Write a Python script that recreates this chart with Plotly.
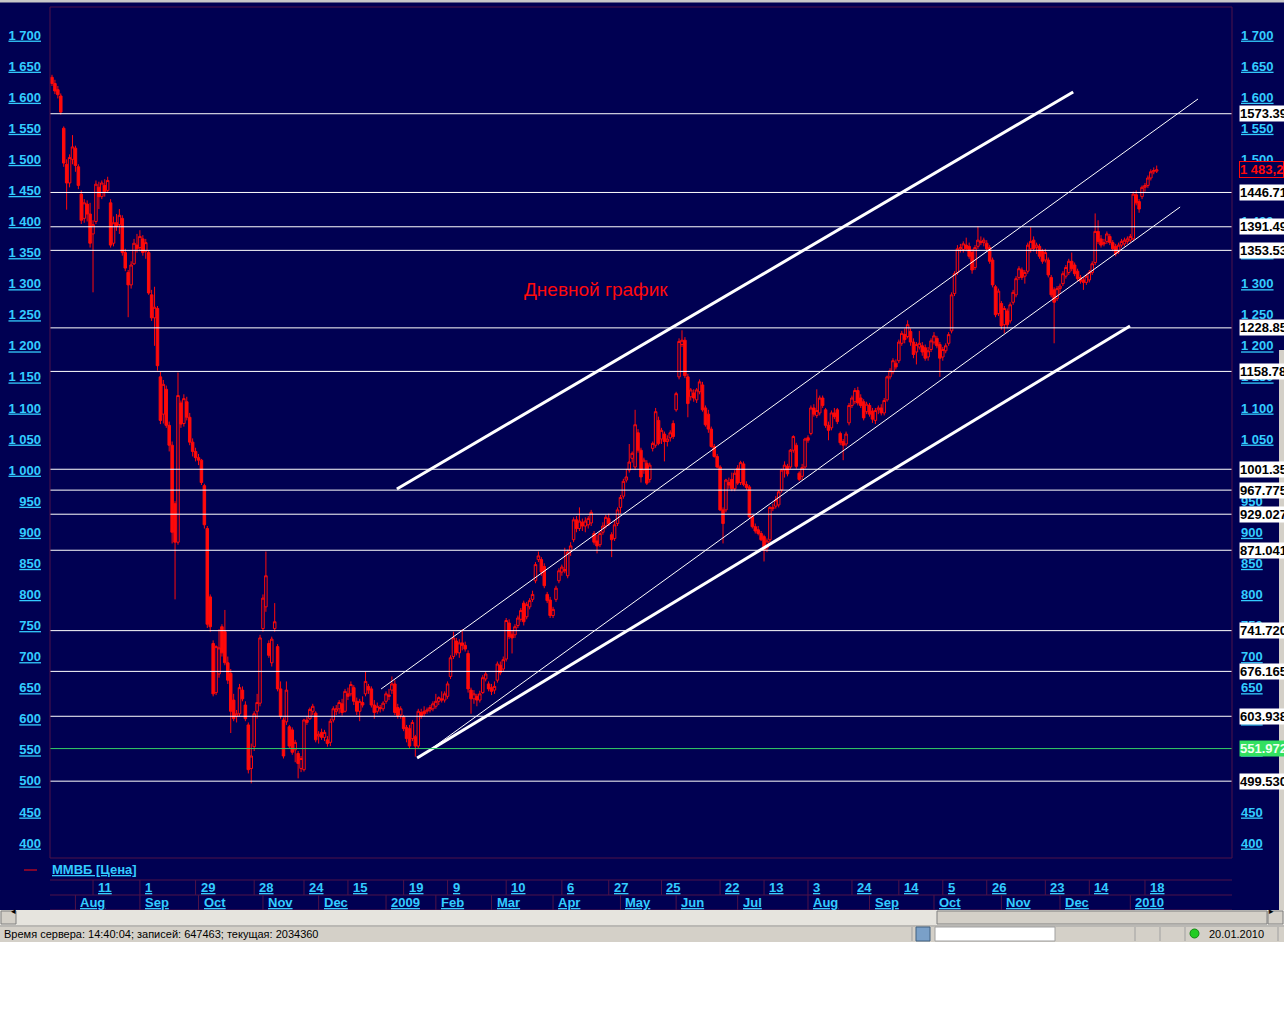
import plotly.graph_objects as go

# ---------------- data (MICEX / ММВБ daily OHLC, bar index = trading day) ----------------
opens = [
1632,1622,1612,1602,1550,1492,1462,1500,1518,1488,
1444,1405,1428,1412,1380,1400,1455,1440,1458,1450,
1430,1365,1398,1395,1405,1350,1318,1298,1332,1362,
1358,1372,1352,1350,1282,1245,1260,1150,1090,1130,
1072,1040,946,884,1108,1075,1110,1085,1045,1030,
1020,1016,975,906,796,721,642,672,748,740,
690,673,630,604,608,646,622,590,520,555,
612,625,745,780,721,690,745,716,648,598,
595,587,582,550,544,520,518,598,600,612,
609,572,578,570,566,562,598,612,616,624,
612,640,640,650,628,612,626,640,652,648,
622,612,618,616,628,638,646,656,618,606,
603,586,584,568,571,556,610,612,612,614,
616,620,628,632,630,636,668,700,725,706,
722,718,705,646,632,636,630,642,664,656,
650,646,662,686,680,696,754,736,735,750,
760,786,764,780,792,822,856,856,845,800,
791,766,792,822,836,840,830,870,888,920,
906,916,910,912,915,898,886,880,900,910,
922,896,890,914,940,958,984,1000,1019,1005,
1060,1032,1000,1011,985,1035,1040,1080,1050,1058,
1046,1052,1075,1097,1150,1202,1209,1150,1118,1124,
1113,1126,1137,1100,1090,1066,1038,1022,1005,936,
936,980,985,970,1003,980,1010,977,973,925,
909,904,898,893,875,888,940,942,944,968,
1000,1006,1005,1032,1040,995,990,1005,1052,1059,
1100,1088,1092,1116,1097,1072,1068,1092,1097,1059,
1046,1042,1076,1104,1110,1128,1116,1110,1094,1104,
1095,1080,1097,1100,1092,1113,1150,1158,1172,1176,
1204,1218,1215,1223,1206,1190,1198,1200,1197,1182,
1194,1206,1212,1202,1182,1192,1204,1224,1284,1318,
1356,1355,1362,1360,1350,1326,1360,1368,1366,1365,
1358,1338,1295,1252,1268,1234,1256,1240,1270,1282,
1310,1322,1312,1320,1356,1370,1358,1360,1352,1338,
1338,1310,1290,1276,1292,1300,1312,1318,1336,1330,
1320,1310,1306,1302,1306,1318,1334,1384,1372,1366,
1368,1376,1366,1360,1352,1362,1364,1368,1370,1372,
1443,1432,1440,1455,1458,1470,1480,1481]

highs = [
1636,1628,1618,1606,1553,1500,1508,1539,1522,1492,
1450,1436,1434,1430,1402,1466,1464,1466,1468,1472,
1436,1408,1412,1420,1410,1356,1322,1336,1372,1380,
1386,1378,1372,1354,1290,1295,1264,1158,1145,1136,
1078,1046,950,1157,1112,1122,1118,1092,1051,1036,
1026,1018,978,910,800,726,718,744,752,775,
700,680,640,614,656,652,628,594,560,612,
640,735,800,869,726,732,786,720,660,602,
660,590,586,566,548,540,600,604,618,624,
612,580,584,582,572,600,620,622,630,632,
648,650,660,654,634,632,636,676,656,652,
630,626,622,628,644,648,668,662,624,620,
606,590,590,598,574,616,616,620,618,622,
628,640,636,644,644,660,702,740,730,728,
744,724,710,650,646,640,645,670,676,660,
656,660,692,692,700,762,760,742,752,766,
778,790,788,794,806,852,869,860,850,804,
796,780,814,842,848,875,872,884,924,926,
940,922,924,926,936,902,896,902,916,928,
930,900,918,940,960,986,1002,1042,1030,1097,
1066,1036,1020,1016,1012,1046,1100,1086,1068,1062,
1056,1064,1080,1126,1212,1225,1214,1155,1132,1130,
1132,1146,1142,1104,1097,1070,1042,1026,1008,940,
986,988,996,1000,1008,1015,1014,982,976,928,
914,910,902,896,890,942,946,958,968,1002,
1014,1010,1034,1056,1044,998,1010,1052,1056,1104,
1106,1130,1120,1120,1100,1078,1096,1100,1100,1062,
1050,1062,1108,1120,1132,1134,1122,1114,1110,1108,
1100,1100,1104,1106,1116,1152,1164,1180,1178,1210,
1224,1228,1241,1228,1212,1206,1224,1206,1202,1198,
1212,1222,1216,1206,1198,1204,1222,1286,1320,1362,
1364,1368,1374,1366,1356,1362,1392,1376,1374,1370,
1362,1342,1298,1292,1272,1264,1260,1270,1290,1312,
1328,1326,1322,1366,1391,1376,1366,1364,1356,1356,
1342,1314,1294,1296,1300,1320,1330,1340,1350,1334,
1324,1314,1310,1316,1322,1336,1413,1402,1378,1372,
1384,1380,1370,1364,1366,1372,1374,1376,1380,1448,
1450,1436,1458,1462,1474,1484,1487,1490]

lows = [
1618,1605,1598,1572,1488,1419,1455,1492,1480,1452,
1396,1398,1400,1358,1286,1396,1420,1436,1440,1446,
1358,1360,1385,1380,1345,1320,1246,1292,1330,1350,
1352,1345,1340,1282,1240,1200,1160,1074,1075,1068,
1030,882,792,880,1068,1070,1080,1040,1022,1014,
1008,976,906,746,740,636,638,666,700,686,
656,577,596,594,604,628,596,512,496,548,
600,620,740,772,698,684,740,644,600,536,
590,552,542,530,504,514,515,590,598,606,
562,560,566,564,555,556,594,606,608,605,
610,630,636,622,606,596,618,636,640,618,
600,608,610,612,624,630,640,606,600,600,
580,562,552,564,539,552,600,604,608,610,
612,616,622,626,626,632,664,696,702,698,
710,708,642,608,624,620,626,640,660,644,
638,640,658,670,676,692,728,705,730,746,
756,750,760,776,788,818,852,830,810,786,
762,762,788,818,830,834,826,862,884,900,
902,902,900,906,910,880,866,876,896,906,
910,860,886,910,930,954,980,996,1012,1000,
1028,980,994,976,980,1030,1036,1040,1042,1014,
1038,1046,1050,1094,1146,1198,1148,1085,1112,1110,
1108,1122,1094,1070,1060,1036,1020,1003,934,882,
932,970,966,966,976,976,974,968,922,906,
898,895,886,853,868,884,934,938,940,964,
988,990,1002,1028,1002,982,984,1002,1044,1056,
1086,1084,1088,1100,1068,1048,1064,1082,1074,1040,
1016,1038,1072,1100,1106,1104,1100,1080,1090,1086,
1076,1074,1090,1088,1088,1110,1146,1154,1162,1172,
1200,1204,1212,1200,1180,1170,1194,1184,1176,1176,
1190,1202,1196,1150,1176,1188,1200,1220,1280,1314,
1350,1350,1352,1340,1316,1322,1356,1362,1360,1352,
1332,1294,1246,1248,1226,1220,1228,1236,1266,1278,
1306,1306,1300,1316,1350,1352,1348,1340,1332,1334,
1310,1278,1204,1272,1284,1296,1308,1314,1320,1312,
1304,1300,1290,1298,1302,1314,1330,1364,1358,1360,
1364,1362,1352,1344,1348,1358,1360,1364,1366,1368,
1426,1414,1436,1448,1454,1466,1476,1478]

closes = [
1622,1610,1604,1576,1494,1462,1503,1520,1490,1458,
1402,1430,1412,1365,1395,1460,1440,1462,1448,1466,
1362,1398,1392,1410,1350,1325,1298,1330,1365,1356,
1376,1350,1366,1285,1245,1262,1168,1080,1138,1072,
1040,900,884,1120,1074,1115,1085,1045,1030,1020,
1016,980,912,752,748,640,716,714,706,690,
662,612,600,608,650,632,600,518,540,608,
626,730,794,830,702,728,756,648,604,540,
646,556,546,562,528,536,598,594,615,620,
566,575,570,578,560,596,616,616,626,610,
644,636,655,628,612,628,622,660,646,622,
610,620,616,625,640,636,656,610,605,616,
584,568,556,594,556,612,604,608,614,618,
624,628,634,630,640,656,698,730,706,722,
718,712,648,632,640,630,640,666,672,648,
644,652,688,674,695,758,732,730,748,762,
774,756,784,790,800,848,862,836,814,790,
766,776,810,838,844,838,868,878,920,906,
918,910,918,922,932,884,878,898,910,924,
914,888,912,936,956,982,989,1013,1027,1073,
1032,989,1016,979,1008,1043,1094,1043,1064,1046,
1050,1060,1054,1123,1207,1209,1152,1107,1129,1116,
1129,1142,1097,1073,1066,1038,1022,1005,936,914,
984,976,970,995,979,1012,977,972,925,909,
902,898,888,871,886,940,938,952,965,1000,
1008,994,1032,1054,1006,985,1004,1050,1048,1100,
1090,1096,1116,1104,1072,1064,1092,1086,1078,1044,
1040,1058,1104,1116,1128,1108,1104,1084,1106,1090,
1082,1096,1100,1092,1112,1150,1160,1176,1166,1206,
1220,1210,1234,1206,1186,1202,1204,1190,1180,1192,
1208,1216,1200,1180,1194,1200,1218,1282,1316,1356,
1358,1364,1356,1344,1322,1358,1370,1366,1370,1356,
1336,1298,1250,1288,1232,1260,1234,1266,1286,1308,
1324,1310,1318,1362,1368,1356,1362,1344,1336,1350,
1314,1282,1270,1292,1296,1316,1326,1336,1324,1316,
1308,1304,1302,1312,1318,1332,1384,1368,1362,1364,
1380,1366,1356,1348,1362,1368,1370,1372,1376,1444,
1430,1420,1455,1458,1470,1480,1482,1483.2]

bar_index = list(range(len(closes)))

level_values = [1573.39, 1446.71, 1391.49, 1353.53, 1228.85, 1158.78, 1001.35,
                967.775, 929.027, 871.041, 741.720, 676.165, 603.938, 551.972, 499.530]
level_labels = ["1573.39", "1446.71", "1391.49", "1353.53", "1228.85", "1158.78", "1001.35",
                "967.775", "929.027", "871.041", "741.720", "676.165", "603.938", "551.972", "499.530"]
support_level = 551.972
last_price = 1483.2
last_price_label = "1 483,2"

y_tick_values = list(range(400, 1701, 50))

# trend channel lines (bar index, price)
trend_x0 = [117.7, 112.3, 125.6, 124.6]
trend_y0 = [969.6, 647.8, 538.4, 536.8]
trend_x1 = [348.5, 391.1, 385.0, 367.9]
trend_y1 = [1608.4, 1597.1, 1423.3, 1231.9]
trend_is_thick = [True, False, False, True]

day_tick_idx = [14, 30, 49, 69, 86, 101, 120, 135, 155, 174, 190, 208, 228, 243, 258, 273, 289, 304, 319, 339, 354, 373]
day_tick_labels = ["11", "1", "29", "28", "24", "15", "19", "9", "10", "6", "27", "25", "22", "13", "3", "24", "14", "5", "26", "23", "14", "18"]
month_idx = [8, 30, 50, 72, 91, 114, 131, 150, 171, 194, 213, 234, 258, 279, 301, 324, 344, 368]
month_labels = ["Aug", "Sep", "Oct", "Nov", "Dec", "2009", "Feb", "Mar", "Apr", "May", "Jun", "Jul",
                "Aug", "Sep", "Oct", "Nov", "Dec", "2010"]

chart_title = "Дневной график"
series_name = "ММВБ [Цена]"
status_text = "Время сервера: 14:40:04; записей: 647463; текущая: 2034360"
status_date = "20.01.2010"

# ---------------- styling / layout ----------------
NAVY = "#000052"
CYAN = "#33CCFF"
RED = "#FF0A0A"
MAROON = "#4E1248"
GREEN = "#33CC66"
GREY = "#D4D0C8"
FONT = "Liberation Sans"

W, H = 1284, 1024
PL, PR, PT, PB = 50, 1232, 7, 858
def fx(p):
    return (p - PL) / (PR - PL)
def fy(p):
    return (PB - p) / (PB - PT)

X_RANGE = [-0.68, 402.7]
Y_RANGE = [375.9, 1745.1]

def fmt_tick(v):
    return f"{v:,}".replace(",", " ")

fig = go.Figure()
fig.add_trace(go.Candlestick(
    x=bar_index, open=opens, high=highs, low=lows, close=closes,
    increasing=dict(line=dict(color=RED, width=1), fillcolor=NAVY),
    decreasing=dict(line=dict(color=RED, width=1), fillcolor=RED),
    whiskerwidth=0, showlegend=False, hoverinfo="skip", name=series_name))

for x0, y0, x1, y1, thick in zip(trend_x0, trend_y0, trend_x1, trend_y1, trend_is_thick):
    fig.add_trace(go.Scatter(x=[x0, x1], y=[y0, y1], mode="lines",
                             line=dict(color="white", width=3 if thick else 1),
                             showlegend=False, hoverinfo="skip"))

fig.add_trace(go.Scatter(x=[0], y=[400], yaxis="y2", mode="markers",
                         marker=dict(opacity=0), showlegend=False, hoverinfo="skip"))

shapes = []
for v in level_values:
    shapes.append(dict(type="line", xref="paper", yref="y", x0=0, x1=1, y0=v, y1=v,
                       line=dict(color=GREEN if v == support_level else "white", width=1),
                       layer="above"))
# plot frame
shapes.append(dict(type="rect", xref="paper", yref="paper", x0=0, x1=1, y0=0, y1=1,
                   line=dict(color=MAROON, width=1), layer="above"))
# date rows frame
for yp in (880, 895, 910):
    shapes.append(dict(type="line", xref="paper", yref="paper", x0=0, x1=1, y0=fy(yp), y1=fy(yp),
                       line=dict(color=MAROON, width=1)))
for ix in day_tick_idx:
    shapes.append(dict(type="line", xref="x", yref="paper", x0=ix, x1=ix, y0=fy(895), y1=fy(880),
                       line=dict(color=MAROON, width=1)))
for ix in month_idx:
    shapes.append(dict(type="line", xref="x", yref="paper", x0=ix, x1=ix, y0=fy(910), y1=fy(895),
                       line=dict(color=MAROON, width=1)))
# legend dash
shapes.append(dict(type="line", xref="paper", yref="paper", x0=fx(24), x1=fx(37), y0=fy(870), y1=fy(870),
                   line=dict(color=RED, width=1)))
# top toolbar strip
shapes.append(dict(type="rect", xref="paper", yref="paper", x0=fx(0), x1=fx(W), y0=fy(0), y1=fy(2.5),
                   fillcolor="#C8C8C8", line=dict(width=0)))
# right window strip
shapes.append(dict(type="rect", xref="paper", yref="paper", x0=fx(1279), x1=fx(W), y0=fy(350), y1=fy(910),
                   fillcolor=GREY, line=dict(width=0)))
# scrollbar
shapes.append(dict(type="rect", xref="paper", yref="paper", x0=fx(0), x1=fx(W), y0=fy(910), y1=fy(925),
                   fillcolor="#E6E4DE", line=dict(width=0)))
shapes.append(dict(type="rect", xref="paper", yref="paper", x0=fx(937), x1=fx(1267), y0=fy(911), y1=fy(924),
                   fillcolor=GREY, line=dict(color="#808080", width=1)))
shapes.append(dict(type="rect", xref="paper", yref="paper", x0=fx(1), x1=fx(16), y0=fy(911), y1=fy(924),
                   fillcolor=GREY, line=dict(color="#808080", width=1)))
shapes.append(dict(type="rect", xref="paper", yref="paper", x0=fx(1268), x1=fx(1283), y0=fy(911), y1=fy(924),
                   fillcolor=GREY, line=dict(color="#808080", width=1)))
# status bar
shapes.append(dict(type="rect", xref="paper", yref="paper", x0=fx(0), x1=fx(W), y0=fy(925), y1=fy(942),
                   fillcolor=GREY, line=dict(width=0)))
shapes.append(dict(type="line", xref="paper", yref="paper", x0=fx(0), x1=fx(W), y0=fy(926), y1=fy(926),
                   line=dict(color="#A0A0A0", width=1)))
shapes.append(dict(type="rect", xref="paper", yref="paper", x0=fx(935), x1=fx(1055), y0=fy(927), y1=fy(941),
                   fillcolor="white", line=dict(color="#A0A0A0", width=1)))
for sx in (912, 1135, 1160, 1185, 1278):
    shapes.append(dict(type="line", xref="paper", yref="paper", x0=fx(sx), x1=fx(sx), y0=fy(927), y1=fy(941),
                       line=dict(color="#A0A0A0", width=1)))
shapes.append(dict(type="rect", xref="paper", yref="paper", x0=fx(916), x1=fx(930), y0=fy(927), y1=fy(941),
                   fillcolor="#7AA0C8", line=dict(color="#406080", width=1)))
shapes.append(dict(type="circle", xref="paper", yref="paper", x0=fx(1190), x1=fx(1199), y0=fy(929), y1=fy(938),
                   fillcolor="#22CC22", line=dict(color="#118811", width=1)))
# white area below
shapes.append(dict(type="rect", xref="paper", yref="paper", x0=fx(0), x1=fx(W), y0=fy(942), y1=fy(H),
                   fillcolor="white", line=dict(width=0)))

LBL = 13
ann = []
ann.append(dict(text=chart_title, x=185.7, y=1290, xref="x", yref="y", showarrow=False,
                font=dict(family=FONT, size=19, color=RED)))
for v, lab in zip(level_values, level_labels):
    green = v == support_level
    ann.append(dict(text=lab, x=fx(1239), y=v, xref="paper", yref="y", xanchor="left", yanchor="middle",
                    showarrow=False, bgcolor="#33E060" if green else "white", borderpad=0,
                    font=dict(family=FONT, size=LBL, color="#F0FFF0" if green else "black", weight="bold")))
ann.append(dict(text=last_price_label, x=fx(1239), y=last_price, xref="paper", yref="y",
                xanchor="left", yanchor="middle", showarrow=False, bgcolor=NAVY,
                bordercolor=RED, borderwidth=1, borderpad=0,
                font=dict(family=FONT, size=LBL, color=RED, weight="bold")))
ann.append(dict(text=series_name, x=fx(50), y=fy(870), xref="paper", yref="paper", xanchor="left",
                yanchor="middle", showarrow=False,
                font=dict(family=FONT, size=LBL, color=CYAN, weight="bold", lineposition="under")))
for ix, lab in zip(day_tick_idx, day_tick_labels):
    ann.append(dict(text=lab, x=ix, y=fy(887.5), xref="x", yref="paper", xanchor="left", yanchor="middle",
                    xshift=3, showarrow=False,
                    font=dict(family=FONT, size=LBL, color=CYAN, weight="bold", lineposition="under")))
for ix, lab in zip(month_idx, month_labels):
    ann.append(dict(text=lab, x=ix, y=fy(902.5), xref="x", yref="paper", xanchor="left", yanchor="middle",
                    xshift=3, showarrow=False,
                    font=dict(family=FONT, size=LBL, color=CYAN, weight="bold", lineposition="under")))
ann.append(dict(text=status_text, x=fx(2), y=fy(934), xref="paper", yref="paper", xanchor="left",
                yanchor="middle", showarrow=False, font=dict(family=FONT, size=11, color="black")))
ann.append(dict(text=status_date, x=fx(1207), y=fy(934), xref="paper", yref="paper", xanchor="left",
                yanchor="middle", showarrow=False, font=dict(family=FONT, size=11, color="black")))
ann.append(dict(text="◂", x=fx(8.5), y=fy(917.5), xref="paper", yref="paper", showarrow=False,
                font=dict(family="DejaVu Sans", size=9, color="black")))
ann.append(dict(text="▸", x=fx(1275.5), y=fy(917.5), xref="paper", yref="paper", showarrow=False,
                font=dict(family="DejaVu Sans", size=9, color="black")))

tick_text = [fmt_tick(v) for v in y_tick_values]
axis_common = dict(range=Y_RANGE, tickmode="array", tickvals=y_tick_values, ticktext=tick_text,
                   showgrid=False, zeroline=False, showline=False, ticks="",
                   tickfont=dict(family=FONT, size=LBL, color=CYAN, weight="bold", lineposition="under"))

fig.update_layout(
    width=W, height=H, autosize=False,
    margin=dict(l=PL, r=W - PR, t=PT, b=H - PB, pad=0),
    paper_bgcolor=NAVY, plot_bgcolor=NAVY,
    showlegend=False, hovermode=False,
    boxgap=0.15, boxgroupgap=0,
    xaxis=dict(range=X_RANGE, showticklabels=False, showgrid=False, zeroline=False,
               showline=False, ticks="", rangeslider=dict(visible=False), fixedrange=True),
    yaxis=dict(side="left", ticklabelstandoff=8, **axis_common),
    yaxis2=dict(side="right", overlaying="y", ticklabelstandoff=8, **axis_common),
    shapes=shapes, annotations=ann,
)

fig.write_html("out.html", config={"displayModeBar": False},
               post_script="document.body.style.margin='0';document.body.style.overflow='hidden';")
